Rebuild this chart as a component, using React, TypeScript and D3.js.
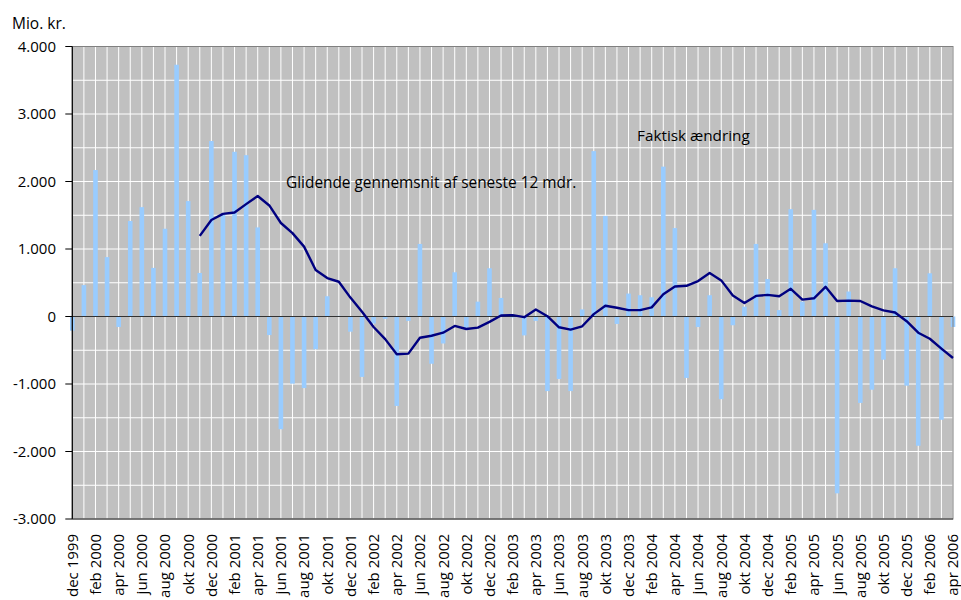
import React, { useRef, useEffect } from 'react';
import * as d3 from 'd3';

// månedlige kategorier, dec 1999 - apr 2006
const categories = [
  'dec 1999',
  'jan 2000', 'feb 2000', 'mar 2000', 'apr 2000', 'maj 2000', 'jun 2000', 'jul 2000', 'aug 2000', 'sep 2000', 'okt 2000', 'nov 2000', 'dec 2000',
  'jan 2001', 'feb 2001', 'mar 2001', 'apr 2001', 'maj 2001', 'jun 2001', 'jul 2001', 'aug 2001', 'sep 2001', 'okt 2001', 'nov 2001', 'dec 2001',
  'jan 2002', 'feb 2002', 'mar 2002', 'apr 2002', 'maj 2002', 'jun 2002', 'jul 2002', 'aug 2002', 'sep 2002', 'okt 2002', 'nov 2002', 'dec 2002',
  'jan 2003', 'feb 2003', 'mar 2003', 'apr 2003', 'maj 2003', 'jun 2003', 'jul 2003', 'aug 2003', 'sep 2003', 'okt 2003', 'nov 2003', 'dec 2003',
  'jan 2004', 'feb 2004', 'mar 2004', 'apr 2004', 'maj 2004', 'jun 2004', 'jul 2004', 'aug 2004', 'sep 2004', 'okt 2004', 'nov 2004', 'dec 2004',
  'jan 2005', 'feb 2005', 'mar 2005', 'apr 2005', 'maj 2005', 'jun 2005', 'jul 2005', 'aug 2005', 'sep 2005', 'okt 2005', 'nov 2005', 'dec 2005',
  'jan 2006', 'feb 2006', 'mar 2006', 'apr 2006',
];

// faktisk ændring (mio. kr.)
const faktisk = [
  -210,
  465, 2170, 880, -155, 1415, 1620, 720, 1300, 3730, 1710, 645, 2600,
  1505, 2440, 2390, 1320, -275, -1670, -995, -1060, -485, 300, 10, -225,
  -895, -105, -35, -1325, -65, 1075, -700, -400, 655, -165, 220, 715,
  275, -15, -280, -65, -1105, -925, -1105, 105, 2450, 1490, -110, 340,
  315, 285, 2220, 1310, -910, -155, 315, -1225, -130, 145, 1075, 555,
  95, 1590, 220, 1580, 1085, -2620, 370, -1280, -1085, -640, 715, -1025,
  -1915, 640, -1530, -155,
];

// glidende gennemsnit af seneste 12 mdr.
const glidende = [
  null,
  null, null, null, null, null, null, null, null, null, null, 1195, 1430,
  1520, 1540, 1665, 1785, 1645, 1385, 1235, 1035, 690, 570, 515, 280,
  70, -155, -335, -560, -550, -315, -285, -240, -140, -185, -165, -80,
  15, 20, -10, 105, 5, -160, -195, -145, 35, 160, 130, 95,
  95, 135, 330, 445, 455, 525, 645, 535, 310, 200, 305, 320,
  300, 410, 250, 270, 440, 230, 235, 230, 150, 90, 60, -70,
  -240, -330, -475, -615,
];

const yTicks = [4000, 3000, 2000, 1000, 0, -1000, -2000, -3000];
const yTickLabels = ['4.000', '3.000', '2.000', '1.000', '0', '-1.000', '-2.000', '-3.000'];

const FONT = '"Open Sans", sans-serif';

const Chart = () => {
  const chartRef = useRef(null);

  useEffect(() => {
    d3.select(chartRef.current).selectAll('*').remove();

    const width = 961;
    const height = 600;
    const left = 72.3;
    const right = 953;
    const top = 46.5;
    const bottom = 519;

    const x = d3.scalePoint().domain(categories).range([left, right]);
    const y = d3.scaleLinear().domain([-3000, 4000]).range([bottom, top]);

    const svg = d3
      .select(chartRef.current)
      .append('svg')
      .attr('width', width)
      .attr('height', height)
      .style('position', 'absolute')
      .style('left', 0)
      .style('top', 0)
      .style('font-family', FONT);

    // baggrund
    svg
      .append('rect')
      .attr('x', left)
      .attr('y', top)
      .attr('width', right - left)
      .attr('height', bottom - top)
      .attr('fill', '#c0c0c0');

    // gitterlinjer
    svg
      .append('g')
      .selectAll('line')
      .data(categories)
      .enter()
      .append('line')
      .attr('x1', d => x(d))
      .attr('x2', d => x(d))
      .attr('y1', top)
      .attr('y2', bottom)
      .attr('stroke', '#ffffff')
      .attr('stroke-width', 1);

    svg
      .append('g')
      .selectAll('line')
      .data(d3.range(-3000, 4001, 500))
      .enter()
      .append('line')
      .attr('x1', left)
      .attr('x2', right)
      .attr('y1', d => y(d))
      .attr('y2', d => y(d))
      .attr('stroke', '#ffffff')
      .attr('stroke-width', 1);

    // søjler
    const barW = 4.6;
    svg
      .append('g')
      .selectAll('rect')
      .data(faktisk)
      .enter()
      .append('rect')
      .attr('x', (d, i) => x(categories[i]) - barW / 2)
      .attr('y', d => y(Math.max(0, d)))
      .attr('width', barW)
      .attr('height', d => Math.abs(y(d) - y(0)))
      .attr('fill', '#99ccff');

    // ramme
    svg
      .append('rect')
      .attr('x', left)
      .attr('y', top)
      .attr('width', right - left)
      .attr('height', bottom - top)
      .attr('fill', 'none')
      .attr('stroke', '#808080')
      .attr('stroke-width', 1);

    // nul-linje
    svg
      .append('line')
      .attr('x1', left)
      .attr('x2', right)
      .attr('y1', y(0))
      .attr('y2', y(0))
      .attr('stroke', '#333333')
      .attr('stroke-width', 1.2);

    // glidende gennemsnit
    const line = d3
      .line()
      .defined(d => d[1] !== null)
      .x(d => x(d[0]))
      .y(d => y(d[1]));

    svg
      .append('path')
      .datum(categories.map((c, i) => [c, glidende[i]]))
      .attr('d', line)
      .attr('fill', 'none')
      .attr('stroke', '#000080')
      .attr('stroke-width', 2.4)
      .attr('stroke-linejoin', 'round');

    // akser
    svg
      .append('line')
      .attr('x1', left)
      .attr('x2', left)
      .attr('y1', top)
      .attr('y2', bottom)
      .attr('stroke', '#000000')
      .attr('stroke-width', 1.2);

    svg
      .append('line')
      .attr('x1', left)
      .attr('x2', right)
      .attr('y1', bottom)
      .attr('y2', bottom)
      .attr('stroke', '#333333')
      .attr('stroke-width', 1);

    const yAxis = svg.append('g');
    yAxis
      .selectAll('line')
      .data(yTicks)
      .enter()
      .append('line')
      .attr('x1', left - 7)
      .attr('x2', left)
      .attr('y1', d => y(d))
      .attr('y2', d => y(d))
      .attr('stroke', '#000000')
      .attr('stroke-width', 1);

    yAxis
      .selectAll('text')
      .data(yTicks)
      .enter()
      .append('text')
      .attr('x', 56)
      .attr('y', d => y(d))
      .attr('dy', '0.36em')
      .attr('text-anchor', 'end')
      .attr('font-size', 15)
      .attr('fill', '#000')
      .text((d, i) => yTickLabels[i]);

    // x-akse etiketter (hver anden måned)
    svg
      .append('g')
      .selectAll('text')
      .data(categories.filter((c, i) => i % 2 === 0))
      .enter()
      .append('text')
      .attr('transform', d => `translate(${x(d)},${bottom + 15}) rotate(-90)`)
      .attr('dy', '0.36em')
      .attr('text-anchor', 'end')
      .attr('font-size', 15)
      .attr('fill', '#000')
      .text(d => d);

    svg
      .append('text')
      .attr('x', 12)
      .attr('y', 29)
      .attr('font-size', 15.5)
      .attr('fill', '#000')
      .text('Mio. kr.');

    svg
      .append('text')
      .attr('x', 286)
      .attr('y', 188)
      .attr('font-size', 15.4)
      .attr('fill', '#000')
      .text('Glidende gennemsnit af seneste 12 mdr.');

    svg
      .append('text')
      .attr('x', 637)
      .attr('y', 141)
      .attr('font-size', 15.3)
      .attr('fill', '#000')
      .text('Faktisk ændring');
  }, []);

  return <div ref={chartRef}></div>;
};

export default function App() {
  return <Chart />;
}
